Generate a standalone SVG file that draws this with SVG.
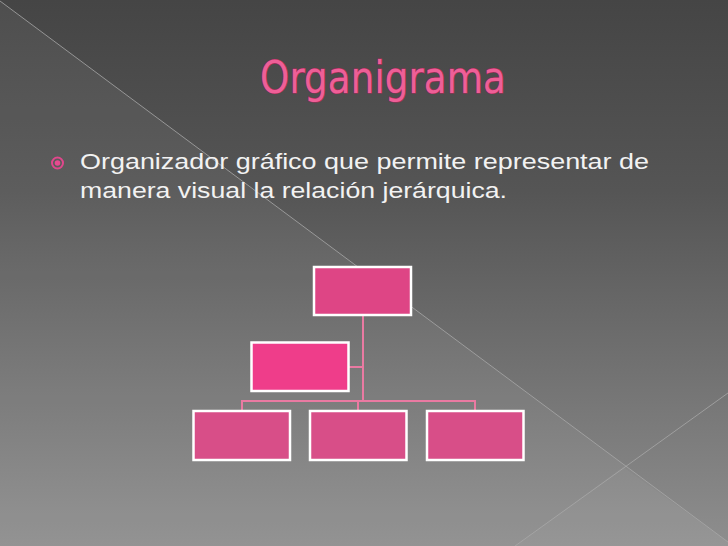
<svg xmlns="http://www.w3.org/2000/svg" width="728" height="546" viewBox="0 0 728 546">
<defs>
<linearGradient id="bg" x1="0" y1="0" x2="0" y2="1">
<stop offset="0" stop-color="#454545"/>
<stop offset="0.35" stop-color="#555555"/>
<stop offset="1" stop-color="#8e8e8e"/>
</linearGradient>
<style>
.box{stroke:#ffffff;stroke-width:2.5}
.conn{stroke:#ea7aa2;stroke-width:2;fill:none}
.deco{stroke:#a8a8a8;stroke-width:1;fill:none;opacity:0.8}
.body{font-family:"Liberation Sans","DejaVu Sans",sans-serif;font-size:22px;fill:#f2f2f2}
.title{font-family:"DejaVu Sans","Liberation Sans",sans-serif;font-size:44px;fill:#ee5f97;stroke:#a02a58;stroke-width:1.2;paint-order:stroke}
</style>
</defs>
<rect x="0" y="0" width="728" height="546" fill="url(#bg)"/>
<polygon points="0,1 728,542 728,546 0,546" fill="#ffffff" opacity="0.05"/>
<polygon points="515,546 623,467 728,542 728,546" fill="#ffffff" opacity="0.03"/>
<g id="decor">
<line class="deco" x1="0" y1="1" x2="728" y2="542"/>
<line class="deco" x1="515" y1="546" x2="728" y2="393"/>
</g>
<g id="title">
<text class="title" x="383" y="93" text-anchor="middle" textLength="246" lengthAdjust="spacingAndGlyphs">Organigrama</text>
</g>
<g id="bullet">
<circle cx="57.5" cy="163" r="5.5" fill="none" stroke="#e0478c" stroke-width="2"/>
<circle cx="57.5" cy="163" r="2.8" fill="#e84a90"/>
<text class="body" x="80" y="169" textLength="569" lengthAdjust="spacingAndGlyphs">Organizador gráfico que permite representar de</text>
<text class="body" x="80" y="198" textLength="427" lengthAdjust="spacingAndGlyphs">manera visual la relación jerárquica.</text>
</g>
<g id="connectors">
<polyline class="conn" points="363,316 363,401"/>
<polyline class="conn" points="349,367 363,367"/>
<polyline class="conn" points="242,411 242,401 475,401 475,411"/>
<polyline class="conn" points="358,401 358,411"/>
</g>
<g id="node-top"><rect class="box" x="314" y="267" width="97" height="48" fill="#de4585"/></g>
<g id="node-mid"><rect class="box" x="251.5" y="342.5" width="97" height="48.5" fill="#ef3d8a"/></g>
<g id="node-b1"><rect class="box" x="193.5" y="411" width="96.5" height="49" fill="#d84e88"/></g>
<g id="node-b2"><rect class="box" x="310" y="411" width="96.5" height="49" fill="#d84e88"/></g>
<g id="node-b3"><rect class="box" x="427" y="411" width="96.5" height="49" fill="#d84e88"/></g>
</svg>
